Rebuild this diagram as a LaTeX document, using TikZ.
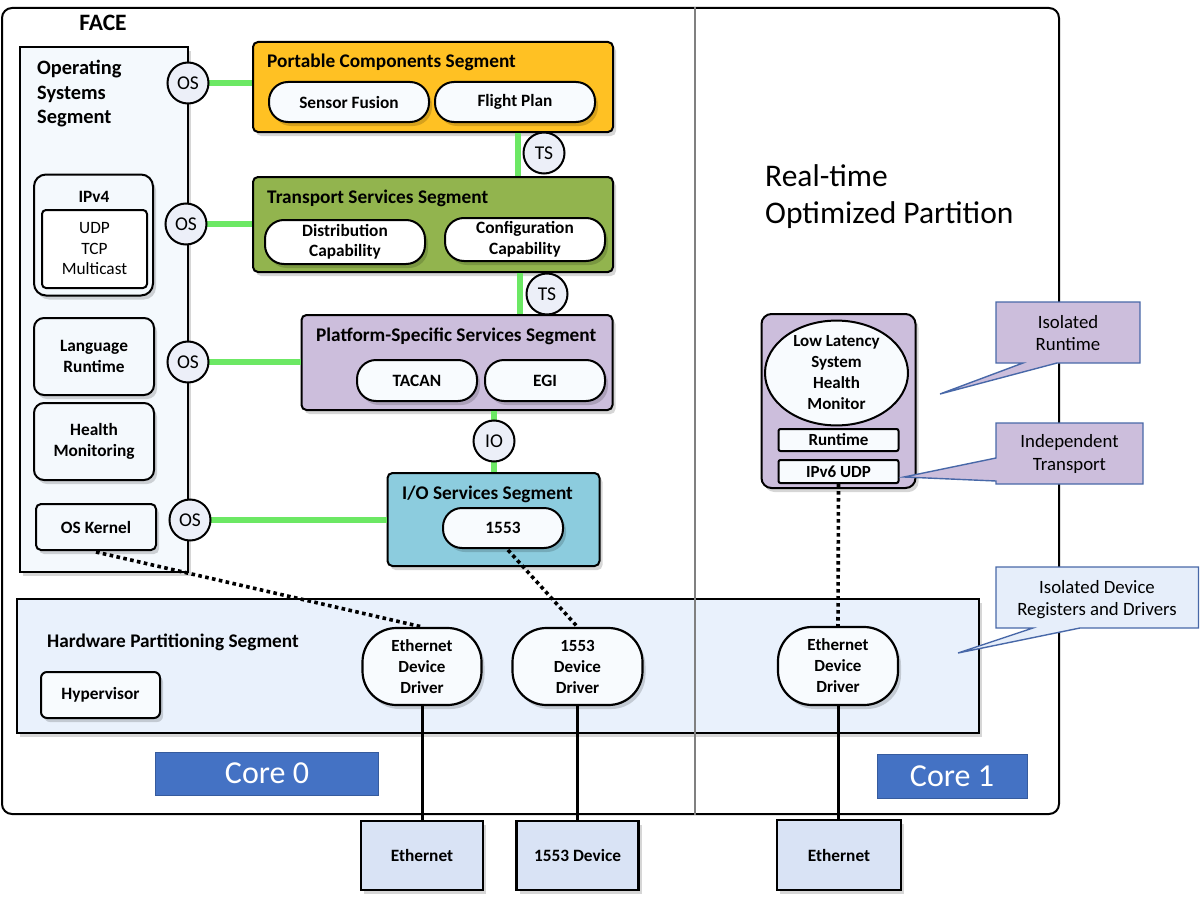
\documentclass[tikz,border=0pt]{standalone}
\usepackage{fontspec}
\setmainfont{Carlito}
\usetikzlibrary{shadows,shapes.geometric}
\definecolor{pcsc}{RGB}{255,193,35}
\definecolor{tpsc}{RGB}{146,180,78}
\definecolor{psc}{RGB}{204,190,220}
\definecolor{iosc}{RGB}{140,204,222}
\definecolor{osbg}{RGB}{244,249,253}
\definecolor{hwbg}{RGB}{233,241,252}
\definecolor{devc}{RGB}{217,227,245}
\definecolor{corec}{RGB}{68,114,196}
\definecolor{pillc}{RGB}{248,251,254}
\definecolor{circc}{RGB}{236,239,248}
\definecolor{greenc}{RGB}{108,232,100}
\definecolor{callb}{RGB}{72,104,168}
\definecolor{calllb}{RGB}{230,238,250}
\definecolor{divc}{RGB}{128,128,128}
\newcommand{\fs}[2]{\fontsize{#1}{#2}\selectfont}
\tikzset{
  shad/.style={drop shadow={shadow xshift=3pt,shadow yshift=-4pt,fill=black,opacity=0.16}},
  seg/.style={draw=black,line width=2,rounded corners=5,shad,inner sep=0},
  pill/.style={draw=black,line width=2,fill=pillc,rounded corners=19,inner sep=0,align=center,font=\bfseries\fs{17.3}{20},shad},
  obox/.style={draw=black,line width=2,fill=osbg,rounded corners=10,inner sep=0,align=center,font=\bfseries\fs{17.3}{20.5},shad},
  ifc/.style={circle,draw=black,line width=2,fill=circc,minimum size=41,inner sep=0,font=\fs{19.5}{20}},
  gline/.style={draw=greenc,line width=6},
  title/.style={anchor=west,inner sep=0,font=\bfseries\fs{19.3}{22}},
  drv/.style={draw=black,line width=2.2,fill=pillc,rounded corners=34,inner sep=0,align=center,font=\bfseries\fs{17}{21},shad},
  devbox/.style={draw=black,line width=2.2,fill=devc,inner sep=0,font=\bfseries\fs{17.3}{20},shad},
  corebox/.style={draw=corec!80!black,line width=0.8,fill=corec,inner sep=0,text=white,font=\fs{32}{34}},
  dotl/.style={line width=3.6,dash pattern=on 3.6pt off 3.4pt},
  wire/.style={line width=3},
  callout/.style={draw=callb,line width=1.4},
  calltext/.style={inner sep=0,align=center,font=\fs{18.8}{22.5}},
}
\begin{document}
\begin{tikzpicture}[x=1pt,y=-1pt]
\useasboundingbox (0,0) rectangle (1200,907);
% outer frame
\node[draw=black,line width=2,rounded corners=10,minimum width=1057,minimum height=806,inner sep=0] (outer) at (530.5,411) {};
\node[anchor=center,inner sep=0,font=\bfseries\fs{23.5}{26}] (face) at (103,23) {FACE};

% Operating systems segment
\node[draw=black,line width=2,fill=osbg,minimum width=168,minimum height=524,inner sep=0,shad] (oss) at (104,309.5) {};
\node[anchor=north west,inner sep=0,align=left,font=\bfseries\fs{20.4}{24.5}] (osst) at (37,60) {Operating\\Systems\\Segment};
\node[obox,rounded corners=12,minimum width=119,minimum height=121] (ipv4) at (93.5,235) {};
\node[inner sep=0,font=\bfseries\fs{17.3}{20}] (ipv4t) at (94,197) {IPv4};
\node[draw=black,line width=2,fill=white,rounded corners=4,minimum width=105,minimum height=78,inner sep=0,align=center,font=\fs{17.3}{20.5}] (proto) at (94.5,249) {UDP\\TCP\\Multicast};
\node[obox,minimum width=120,minimum height=77] (lang) at (94,356.5) {Language\\Runtime};
\node[obox,minimum width=120,minimum height=77] (health) at (94,441.5) {Health\\Monitoring};
\node[obox,rounded corners=5,minimum width=120,minimum height=46] (kernel) at (96,527) {OS Kernel};

% Portable components
\node[seg,fill=pcsc,minimum width=360,minimum height=90] (pcs) at (433,87) {};
\node[title] (pcst) at (267,62) {Portable Components Segment};
\node[pill,minimum width=160,minimum height=40] (fusion) at (349,102) {Sensor Fusion};
\node[pill,minimum width=160,minimum height=40] (flight) at (515,102) {Flight Plan};

% Transport services
\node[seg,fill=tpsc,minimum width=360,minimum height=95] (tps) at (433,224.5) {};
\node[title] (tpst) at (267,198) {Transport Services Segment};
\node[pill,fill=white,minimum width=160,minimum height=44,font=\bfseries\fs{17.3}{20.5}] (dist) at (345,242) {Distribution\\Capability};
\node[pill,fill=white,minimum width=160,minimum height=43,font=\bfseries\fs{17.3}{20.5}] (config) at (525,239.5) {Configuration\\Capability};

% Platform-specific services
\node[seg,fill=psc,minimum width=311,minimum height=95] (pss) at (457,362.5) {};
\node[title] (psst) at (316,336) {Platform-Specific Services Segment};
\node[pill,minimum width=120,minimum height=41] (tacan) at (417,380.5) {TACAN};
\node[pill,minimum width=120,minimum height=41] (egi) at (545,380.5) {EGI};

% I/O services
\node[seg,fill=iosc,minimum width=212,minimum height=93] (ios) at (493.5,519.5) {};
\node[title] (iost) at (402,494) {I/O Services Segment};
\node[pill,minimum width=120,minimum height=40] (p1553) at (503,528) {1553};

% interface circles and green links
\coordinate (os1) at (188,83);
\coordinate (os2) at (186,224);
\coordinate (os3) at (188,362);
\coordinate (os4) at (190,520);
\draw[gline] (os1) -- (os1 -| pcs.west);
\draw[gline] (os2) -- (os2 -| tps.west);
\draw[gline] (os3) -- (os3 -| pss.west);
\draw[gline] (os4) -- (os4 -| ios.west);
\draw[gline] (518,0 |- pcs.south) -- (518,0 |- tps.north);
\draw[gline] (520,0 |- tps.south) -- (520,0 |- pss.north);
\draw[gline] (494,0 |- pss.south) -- (494,0 |- ios.north);
\node[ifc] (c1) at (os1) {OS};
\node[ifc] (c2) at (os2) {OS};
\node[ifc] (c3) at (os3) {OS};
\node[ifc] (c4) at (os4) {OS};
\node[ifc] (ts1) at (544,153) {TS};
\node[ifc] (ts2) at (547,294) {TS};
\node[ifc] (io) at (494,441) {IO};

% Hardware partitioning
\node[draw=black,line width=2,fill=hwbg,minimum width=962,minimum height=134,inner sep=0,shad] (hw) at (497.5,666) {};
\node[title] (hwt) at (47,642) {Hardware Partitioning Segment};
\node[obox,rounded corners=6,minimum width=119,minimum height=46,fill=pillc] (hyper) at (100.5,695) {Hypervisor};
% divider
\draw[divc,line width=2.6] (695,0 |- outer.north) -- (695,0 |- outer.south);

% real-time partition
\node[anchor=north west,inner sep=0,align=left,font=\fs{31.5}{37}] (rtp) at (765,164) {Real-time\\Optimized Partition};
\node[draw=black,line width=2,fill=psc,rounded corners=10,minimum width=154,minimum height=174,inner sep=0,shad] (llbox) at (838.5,401) {};
\node[ellipse,draw=black,line width=2,fill=pillc,minimum width=143,minimum height=92,inner sep=0,align=center,font=\bfseries\fs{17}{21}] (llshm) at (836.5,373) {Low Latency\\System\\Health\\Monitor};
\node[draw=black,line width=2,fill=pillc,rounded corners=2,minimum width=120,minimum height=22,inner sep=0,font=\bfseries\fs{17}{18}] (rt) at (838.5,440) {Runtime};
\node[draw=black,line width=2,fill=pillc,rounded corners=2,minimum width=120,minimum height=23,inner sep=0,font=\bfseries\fs{17}{18}] (ipv6) at (838.5,471.5) {IPv6 UDP};

% drivers
\node[drv,minimum width=119,minimum height=77] (edd1) at (422,666.5) {Ethernet\\Device\\Driver};
\node[drv,minimum width=130,minimum height=77] (dd1553) at (577.5,666.5) {1553\\Device\\Driver};
\node[drv,minimum width=120,minimum height=78] (edd2) at (838,666) {Ethernet\\Device\\Driver};

% cores
\node[corebox,minimum width=223,minimum height=43] (core0) at (267,773.5) {Core 0};
\node[corebox,minimum width=150,minimum height=44] (core1) at (952,776) {Core 1};

% devices
\node[devbox,minimum width=122,minimum height=69] (eth1) at (422,855.5) {Ethernet};
\node[devbox,minimum width=122,minimum height=69] (dev1553) at (577.5,855.5) {1553 Device};
\node[devbox,minimum width=124,minimum height=70] (eth2) at (839,855) {Ethernet};

% wires
\draw[wire] (edd1.south) -- (eth1.north -| edd1.south);
\draw[wire] (dd1553.south) -- (dev1553.north -| dd1553.south);
\draw[wire] (edd2.south) -- (eth2.north -| edd2.south);

% dotted links
\draw[dotl] (kernel.south) ++(0,1) coordinate (ks) (ks) -- (edd1.north);
\draw[dotl] (p1553.south) ++(5,1) coordinate (ps) (ps) -- (dd1553.north);
\draw[dotl] (ipv6.south) -- (edd2.north);

% callouts
\draw[callout,fill=psc] (996,302) -- (1140,302) -- (1140,363) -- (1057,363) -- (940,394) -- (1023,363) -- (996,363) -- cycle;
\node[calltext] (irt) at (1068,333) {Isolated\\Runtime};
\draw[callout,fill=psc] (996,423) -- (1143,423) -- (1143,484) -- (996,484) -- (996,481) -- (904,477) -- (996,458) -- cycle;
\node[calltext] (itr) at (1069.5,454) {Independent\\Transport};
\draw[callout,fill=calllb] (996,567) -- (1198.5,567) -- (1198.5,628) -- (1080,628) -- (958,653) -- (1033,628) -- (996,628) -- cycle;
\node[calltext] (idr) at (1097,599.5) {Isolated Device\\Registers and Drivers};
\end{tikzpicture}
\end{document}
